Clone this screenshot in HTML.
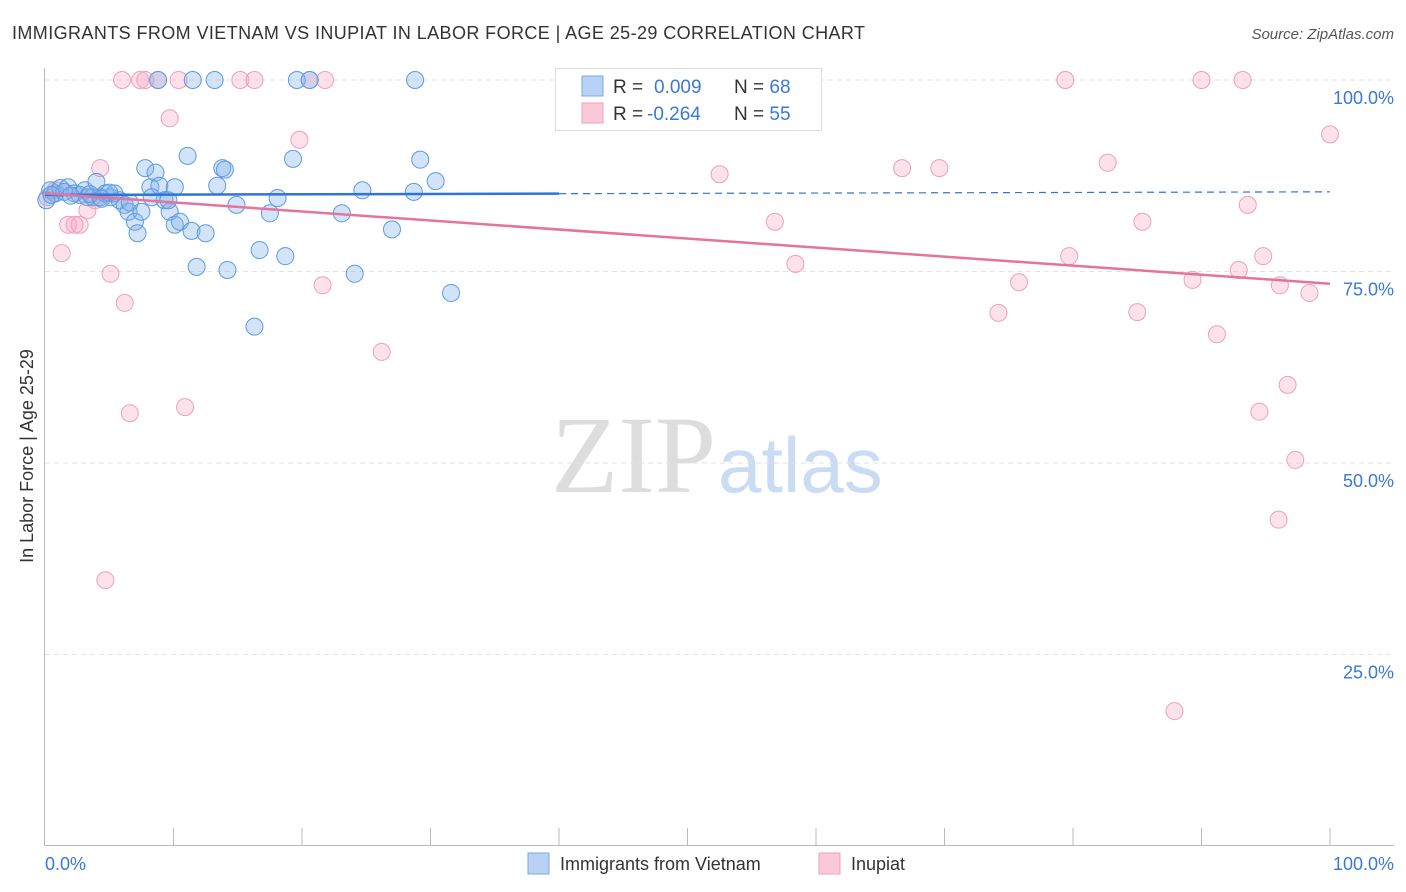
<!DOCTYPE html>
<html><head><meta charset="utf-8"><style>
body{margin:0;background:#fff;font-family:"Liberation Sans",sans-serif;}
svg{display:block}
</style></head><body>
<svg id="chart" width="1406" height="892" xmlns="http://www.w3.org/2000/svg">
<text x="12" y="39" font-size="18" fill="#333" textLength="853">IMMIGRANTS FROM VIETNAM VS INUPIAT IN LABOR FORCE | AGE 25-29 CORRELATION CHART</text>
<text x="1394" y="39" font-size="15" fill="#555" font-style="italic" text-anchor="end">Source: ZipAtlas.com</text>
<text x="716" y="492" font-size="110" fill="#ddd" text-anchor="end" font-family="Liberation Serif,serif">ZIP</text>
<text x="718" y="492" font-size="78" fill="#c9dcf3">atlas</text>
<g id="grid"></g>
<g id="marks"></g>
<text x="33" y="456" font-size="18" fill="#333" text-anchor="middle" transform="rotate(-90 33 456)">In Labor Force | Age 25-29</text>
<text x="45" y="870" font-size="18" fill="#3a78d8">0.0%</text>
<text x="1394" y="870" font-size="18" fill="#3a78d8" text-anchor="end">100.0%</text>
<g>
<rect x="528" y="853" width="21" height="21" fill="#b8d2f5" stroke="#7aa8e8"/>
<text x="560" y="870" font-size="18" fill="#333">Immigrants from Vietnam</text>
<rect x="819" y="853" width="21" height="21" fill="#fbc8d8" stroke="#eea0bc"/>
<text x="851" y="870" font-size="18" fill="#333">Inupiat</text>
</g>
<g>
<rect x="555.5" y="68.5" width="266" height="62" fill="#fff" stroke="#ddd"/>
<rect x="582" y="76" width="21" height="20" fill="#b8d2f5" stroke="#7aa8e8"/>
<text x="613" y="93" font-size="19" fill="#333">R = <tspan fill="#3a78d8" x="654">0.009</tspan></text>
<text x="734" y="93" font-size="19" fill="#333">N = <tspan fill="#3a78d8">68</tspan></text>
<rect x="582" y="103" width="21" height="20" fill="#fbc8d8" stroke="#eea0bc"/>
<text x="613" y="120" font-size="19" fill="#333">R = <tspan fill="#3a78d8" x="647">-0.264</tspan></text>
<text x="734" y="120" font-size="19" fill="#333">N = <tspan fill="#3a78d8">55</tspan></text>
</g>
</svg>
<script>
const yTicks=[100,75,50,25];
const yTickLabels=["100.0%","75.0%","50.0%","25.0%"];
const vietX=[0.4,0.8,1.2,1.8,2.3,2.7,3.1,3.7,4.0,4.3,4.7,5.1,5.4,5.8,6.2,6.5,7.0,7.2,7.5,7.8,8.2,8.6,8.9,9.3,9.7,10.1,10.5,11.1,11.4,11.8,12.5,13.2,13.4,13.8,14.0,14.2,14.9,16.3,16.7,17.5,18.1,18.7,19.3,19.6,20.6,23.1,24.1,24.7,27.0,28.7,29.2,30.4,31.6,11.5,8.8,28.8,0.1,3.3,6.6,8.3,9.6,10.1,0.5,1.5,2.0,3.5,4.4,5.0];
const vietY=[85.6,85.2,85.9,86.0,85.2,85.0,85.6,84.7,86.7,84.7,85.2,84.7,85.2,84.3,83.7,82.8,81.5,80.0,82.8,88.5,86.0,87.9,86.2,84.3,82.8,81.1,81.5,90.1,80.3,75.6,80.0,100,86.2,88.5,88.3,75.2,83.7,67.8,77.8,82.6,84.6,77.0,89.7,100,100,82.6,74.7,85.6,80.5,85.4,89.6,86.8,72.2,100,100,100,84.3,84.7,84.0,84.7,84.3,86.0,85.0,85.4,84.9,85.1,84.5,85.3];
const inuX=[0.2,0.8,1.3,1.8,2.3,2.7,3.3,4.3,4.7,5.1,6.0,6.2,6.6,7.4,7.8,8.8,9.7,10.4,10.9,15.2,16.3,19.8,20.6,21.6,21.8,26.2,52.5,56.4,56.8,58.4,66.7,69.6,74.2,75.8,79.4,79.7,82.7,85.0,85.4,87.9,89.3,90.0,91.2,92.9,93.2,93.6,94.5,94.8,96.0,96.1,96.7,97.3,98.4,100,3.9];
const inuY=[84.7,85.6,77.4,81.1,81.1,81.1,83.0,88.5,34.7,74.7,100,70.9,56.5,100,100,100,95.0,100,57.3,100,100,92.2,100,73.2,100,64.5,87.7,100,81.5,76.0,88.5,88.5,69.6,73.6,100,77.0,89.2,69.7,81.5,17.6,73.9,100,66.8,75.2,100,83.7,56.7,77.0,42.6,73.2,60.2,50.4,72.2,92.9,84.3];
const vietTrend=[85.0,85.4];
const inuTrend=[85.2,73.4];
const NS="http://www.w3.org/2000/svg";
const X0=45,X1=1330,Y0=846,Y100=80;
const sx=v=>X0+(X1-X0)*v/100;
const sy=v=>Y0-(Y0-Y100)*v/100;
const grid=document.getElementById('grid'),marks=document.getElementById('marks');
function mk(tag,attrs,parent){const e=document.createElementNS(NS,tag);for(const k in attrs)e.setAttribute(k,attrs[k]);parent.appendChild(e);return e;}
const ax=mk('line',{x1:44.5,y1:68,x2:44.5,y2:846,stroke:'#bbb'},grid);


const bx=mk('line',{x1:44,y1:845.5,x2:1394,y2:845.5,stroke:'#bbb'},grid);


yTicks.forEach((t,i)=>{
 const g=mk('line',{x1:45,x2:1394,y1:sy(t),y2:sy(t),stroke:'#e2e2e2','stroke-dasharray':'5,4'},grid);
 
 
 const l=mk('text',{x:1394,y:sy(t)+24,'font-size':18,fill:'#3a78d8','text-anchor':'end'},grid);
 l.textContent=yTickLabels[i];
 
 
});
for(let i=1;i<=10;i++){
 const t=mk('line',{x1:sx(i*10),x2:sx(i*10),y1:828,y2:846,stroke:'#bbb'},grid);
 
 
}
inuX.forEach((x,i)=>{
 const c=mk('circle',{cx:sx(x),cy:sy(inuY[i]),r:8.5,fill:'rgba(248,170,198,0.35)',stroke:'#eda0bd','stroke-width':1},marks);
 
 
});
vietX.forEach((x,i)=>{
 const c=mk('circle',{cx:sx(x),cy:sy(vietY[i]),r:8.5,fill:'rgba(130,178,235,0.35)',stroke:'#5d9ae2','stroke-width':1},marks);
 
 
});
const lerp=(a,x)=>a[0]+(a[1]-a[0])*x/100;
const bl=mk('line',{x1:sx(0),y1:sy(lerp(vietTrend,0)),x2:sx(40),y2:sy(lerp(vietTrend,40)),stroke:'#2f74d8','stroke-width':2.5},marks);


const bd=mk('line',{x1:sx(40),y1:sy(lerp(vietTrend,40)),x2:sx(100),y2:sy(lerp(vietTrend,100)),stroke:'#2f74d8','stroke-width':1.2,'stroke-dasharray':'7,5'},marks);


const pl=mk('line',{x1:sx(0),y1:sy(inuTrend[0]),x2:sx(100),y2:sy(inuTrend[1]),stroke:'#e5739c','stroke-width':2.5},marks);


</script>
</body></html>
